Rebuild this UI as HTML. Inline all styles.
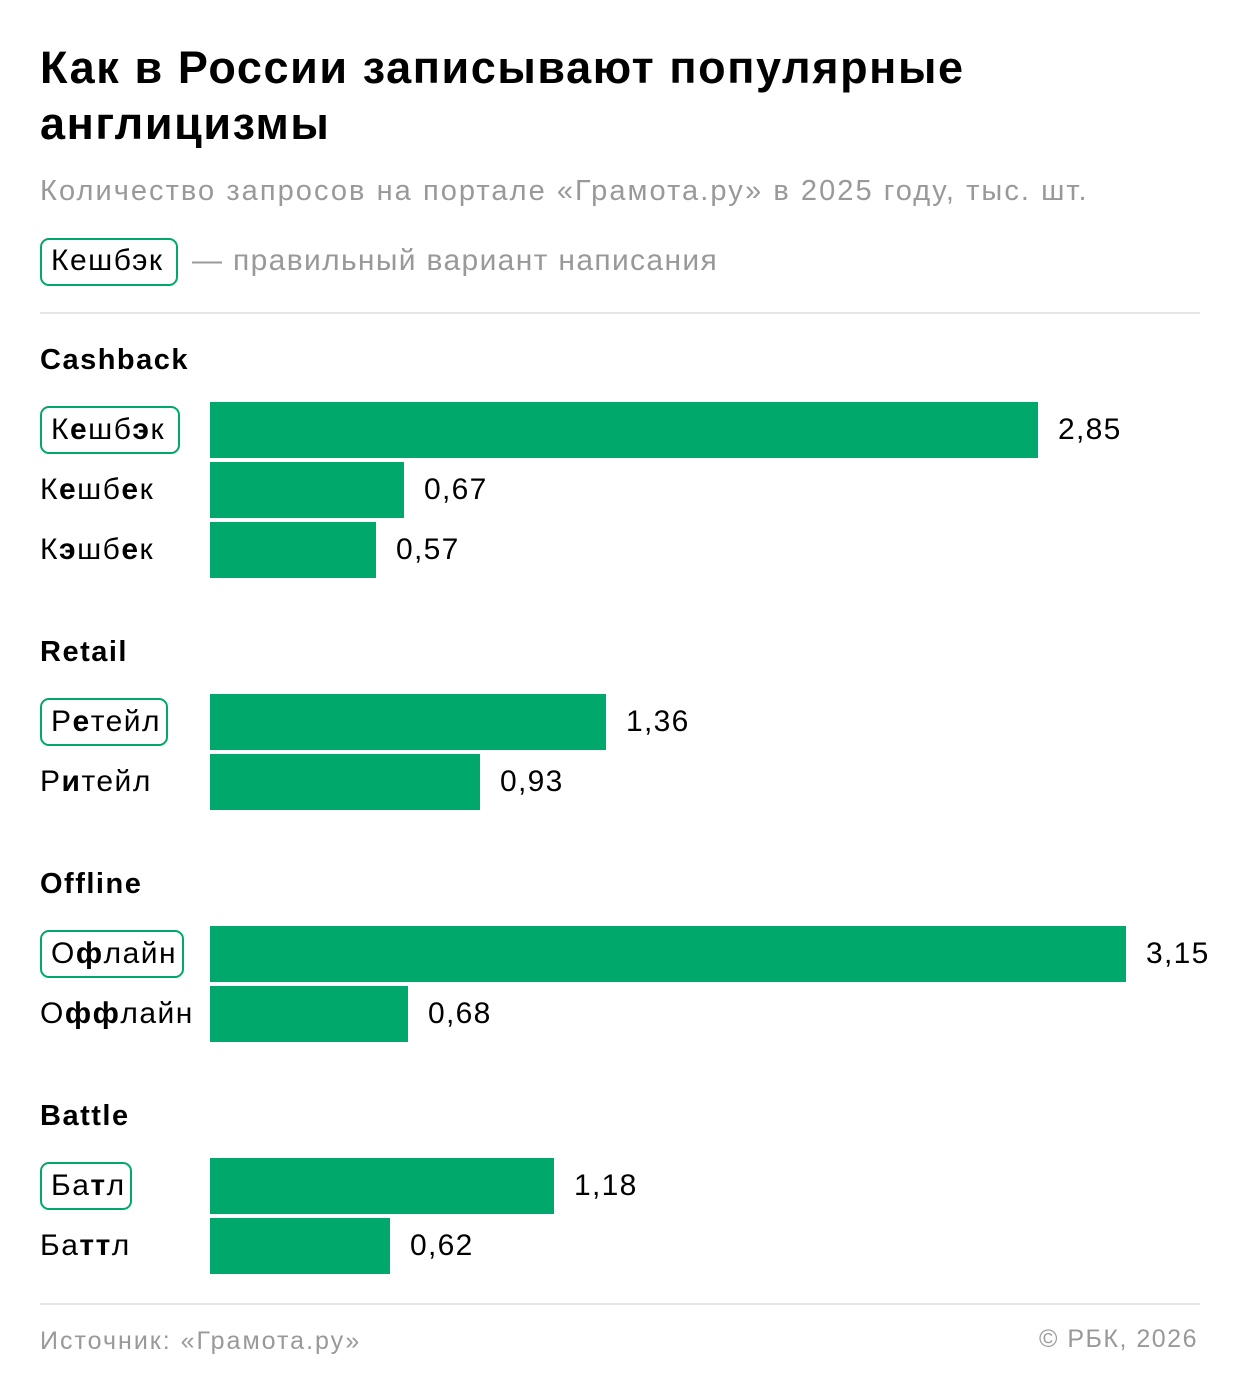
<!DOCTYPE html>
<html><head><meta charset="utf-8"><style>
body{margin:0;width:1240px;height:1400px;background:#fff;font-family:"Liberation Sans",sans-serif;color:#000;position:relative;overflow:hidden}
.a{position:absolute;white-space:nowrap}
h1{position:absolute;left:40px;top:40px;margin:0;font-size:45px;line-height:56px;font-weight:bold;letter-spacing:1.6px}
.sub{left:40px;top:175px;font-size:29px;color:#999;letter-spacing:2.05px}
.box{position:absolute;border:2px solid #00a86b;border-radius:9px;box-sizing:border-box;height:48px}
.lab{font-size:30px;line-height:36px;letter-spacing:1.5px}
.h{font-size:29px;font-weight:bold;letter-spacing:1.5px}
.bar{position:absolute;left:210px;height:56px;background:#00a86b}
.v{font-size:30px;line-height:36px;letter-spacing:1.3px}
.line{position:absolute;left:40px;width:1160px;height:2px;background:#e6e6e6}
b{font-weight:bold}
</style></head><body>
<h1>Как в России записывают популярные<br>англицизмы</h1>
<div class="a sub">Количество запросов на портале «Грамота.ру» в 2025 году, тыс. шт.</div>
<div class="box" style="left:40px;top:238px;width:138px"></div>
<div class="a lab" style="left:51px;top:243px">Кешбэк</div>
<div class="a lab" style="left:192px;top:243px;color:#999;letter-spacing:1.35px">— правильный вариант написания</div>
<div class="line" style="top:312px"></div>

<div class="a h" style="left:40px;top:344px">Cashback</div>
<div class="box" style="left:40px;top:406px;width:140px"></div>
<div class="a lab" style="left:51px;top:412px">К<b>е</b>шб<b>э</b>к</div>
<div class="bar" style="top:402px;width:828px"></div><div class="a v" style="left:1058px;top:412px">2,85</div>
<div class="a lab" style="left:40px;top:472px">К<b>е</b>шб<b>е</b>к</div>
<div class="bar" style="top:462px;width:194px"></div><div class="a v" style="left:424px;top:472px">0,67</div>
<div class="a lab" style="left:40px;top:532px">К<b>э</b>шб<b>е</b>к</div>
<div class="bar" style="top:522px;width:166px"></div><div class="a v" style="left:396px;top:532px">0,57</div>

<div class="a h" style="left:40px;top:636px">Retail</div>
<div class="box" style="left:40px;top:698px;width:128px"></div>
<div class="a lab" style="left:51px;top:704px">Р<b>е</b>тейл</div>
<div class="bar" style="top:694px;width:396px"></div><div class="a v" style="left:626px;top:704px">1,36</div>
<div class="a lab" style="left:40px;top:764px">Р<b>и</b>тейл</div>
<div class="bar" style="top:754px;width:270px"></div><div class="a v" style="left:500px;top:764px">0,93</div>

<div class="a h" style="left:40px;top:868px">Offline</div>
<div class="box" style="left:40px;top:930px;width:144px"></div>
<div class="a lab" style="left:51px;top:936px">О<b>ф</b>лайн</div>
<div class="bar" style="top:926px;width:916px"></div><div class="a v" style="left:1146px;top:936px">3,15</div>
<div class="a lab" style="left:40px;top:996px">О<b>фф</b>лайн</div>
<div class="bar" style="top:986px;width:198px"></div><div class="a v" style="left:428px;top:996px">0,68</div>

<div class="a h" style="left:40px;top:1100px">Battle</div>
<div class="box" style="left:40px;top:1162px;width:92px"></div>
<div class="a lab" style="left:51px;top:1168px">Ба<b>т</b>л</div>
<div class="bar" style="top:1158px;width:344px"></div><div class="a v" style="left:574px;top:1168px">1,18</div>
<div class="a lab" style="left:40px;top:1228px">Ба<b>тт</b>л</div>
<div class="bar" style="top:1218px;width:180px"></div><div class="a v" style="left:410px;top:1228px">0,62</div>

<div class="line" style="top:1303px"></div>
<div class="a" style="left:40px;top:1327px;font-size:25px;color:#999;letter-spacing:2px">Источник: «Грамота.ру»</div>
<div class="a" style="right:42px;top:1325px;font-size:25px;color:#999;letter-spacing:1.5px">© РБК, 2026</div>
</body></html>
